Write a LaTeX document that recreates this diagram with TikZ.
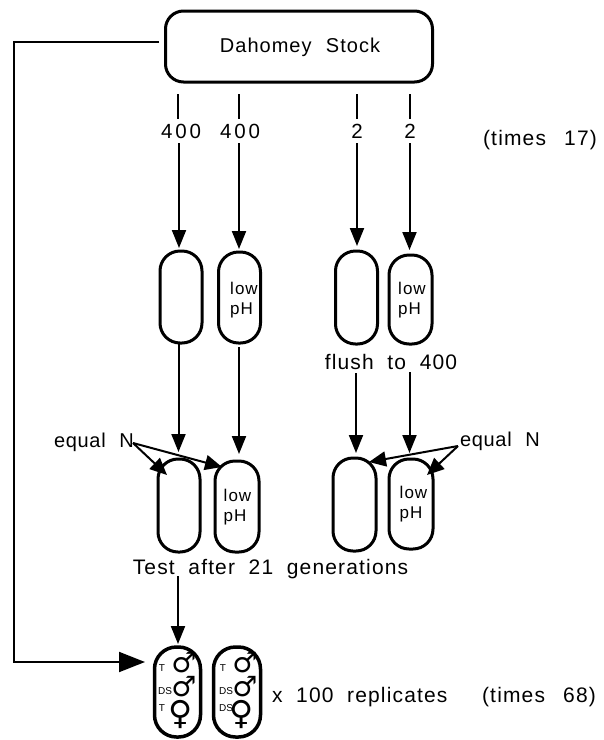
\documentclass[tikz,border=0pt]{standalone}
\usepackage{fontspec}
\setmainfont[LetterSpace=5,WordSpace=2.2]{Liberation Sans}
\newfontfamily\symfont{DejaVu Sans}
\newfontfamily\widefont[LetterSpace=5.5,WordSpace=2.6]{Liberation Sans}
\newcommand\tgt{\hspace{-4.5pt}}
\usetikzlibrary{arrows.meta}
\tikzset{
  x=1pt,y=-1pt,
  vial/.style={draw=black,line width=3pt,rounded corners=20pt,inner sep=0pt,outer sep=0pt,align=center},
  lab/.style={inner sep=0pt,outer sep=0pt,font=\fontsize{20}{22}\selectfont},
  eqt/.style={inner sep=0pt,outer sep=0pt,font=\fontsize{20}{22}\selectfont\addfontfeature{LetterSpace=3.5}},
  wide/.style={inner sep=0pt,outer sep=0pt,font=\widefont\fontsize{21}{22}\selectfont},
  num/.style={inner sep=0pt,outer sep=0pt,font=\fontsize{20.5}{22}\selectfont\addfontfeature{LetterSpace=14}},
  ph/.style={inner sep=0pt,outer sep=0pt,align=left,font=\fontsize{17}{20}\selectfont\addfontfeature{LetterSpace=6}},
  tiny/.style={inner sep=0pt,outer sep=0pt,font=\fontsize{10}{11}\selectfont\addfontfeature{LetterSpace=0}},
  male/.style={inner sep=0pt,outer sep=0pt,font=\symfont\bfseries\fontsize{28}{28}\selectfont},
  female/.style={inner sep=0pt,outer sep=0pt,font=\symfont\bfseries\fontsize{33}{33}\selectfont},
  line/.style={draw=black,line width=2pt},
  arr/.style={draw=black,line width=2pt,-{Triangle[length=18pt,width=14pt]}},
  big/.style={draw=black,line width=2pt,-{Triangle[length=26pt,width=20pt]}},
  eq/.style={draw=black,line width=2pt,-{Triangle[length=17pt,width=15pt]}},
}
\begin{document}
\begin{tikzpicture}
\useasboundingbox (0,0) rectangle (604,740);
% stock
\node[vial,rounded corners=18pt,minimum width=267pt,minimum height=71pt] (stock) at (299,46.5) {};
\node[lab] (stocklab) at (300,47) {Dahomey Stock};
% numbers
\node[num] (na) at (181,131) {400};
\node[num] (nb) at (240,131) {400};
\node[num] (nc) at (357,131) {2};
\node[num] (nd) at (410,131) {2};
\node[wide] (t17) at (540,140) {(times 17)};
% vials row 1
\node[vial,minimum width=42pt,minimum height=92pt] (a1) at (181,297) {};
\node[vial,minimum width=42pt,minimum height=91pt] (b1) at (239.5,297.5) {};
\node[ph] (bl) at (244,300) {low\\pH};
\node[vial,minimum width=42pt,minimum height=93pt] (c1) at (356.5,297.5) {};
\node[vial,minimum width=43pt,minimum height=89pt] (d1) at (410.5,299.5) {};
\node[ph] (dl) at (412,300) {low\\pH};
\node[wide] (flush) at (391,362) {flush\tgt{} to\tgt{} 400};
% vials row 2
\node[vial,minimum width=42pt,minimum height=93pt] (a2) at (179,505.5) {};
\node[vial,minimum width=44pt,minimum height=91pt] (b2) at (237,506.5) {};
\node[vial,minimum width=43pt,minimum height=93pt] (c2) at (354.5,504.5) {};
\node[vial,minimum width=44pt,minimum height=90pt] (d2) at (411,504) {};
\node[ph] (b2l) at (237.5,507) {low\\pH};
\node[ph] (d2l) at (413.5,504) {low\\pH};
\node[wide] (test) at (270.5,569) {Test\tgt{} after\tgt{} 21\tgt{} generations};
\node[eqt,anchor=west] (eql) at (54,442) {equal N};
\node[eqt,anchor=west] (eqr) at (460,441) {equal N};
% vials row 3
\node[vial,line width=3.5pt,minimum width=46pt,minimum height=90pt,rounded corners=22pt] (a3) at (177.5,692) {};
\node[vial,line width=3.5pt,minimum width=47pt,minimum height=90pt,rounded corners=22pt] (b3) at (237,692) {};
\node[wide,anchor=west] (rep) at (272,697) {x\tgt{} 100\tgt{} replicates};
\node[wide] (t68) at (539,697) {(times 68)};
% stubs
\coordinate (sa) at (178,94);  \coordinate (sae) at (178,119);
\coordinate (sb) at (238.5,94);\coordinate (sbe) at (238.5,119);
\coordinate (sc) at (357,94);  \coordinate (sce) at (357,119);
\coordinate (sd) at (410,94);  \coordinate (sde) at (410,119);
\draw[line] (sa)--(sae); \draw[line] (sb)--(sbe); \draw[line] (sc)--(sce); \draw[line] (sd)--(sde);
\coordinate (xa) at (179,143); \coordinate (xb) at (239,143); \coordinate (xc) at (357,143); \coordinate (xd) at (409.5,143);
\draw[arr,shorten >=3pt] (xa) -- (xa |- a1.north);
\draw[arr,shorten >=3pt] (xb) -- (xb |- b1.north);
\draw[arr,shorten >=5pt] (xc) -- (xc |- c1.north);
\draw[arr,shorten >=5pt] (xd) -- (xd |- d1.north);
% row 1 to row 2
\coordinate (ya) at (178.5,344); \coordinate (yb) at (239,347); \coordinate (yc) at (356,373); \coordinate (yd) at (409.5,372);
\draw[arr,shorten >=7pt] (ya) -- (ya |- a2.north);
\draw[arr,shorten >=7pt] (yb) -- (yb |- b2.north);
\draw[arr,shorten >=5pt] (yc) -- (yc |- c2.north);
\draw[arr,shorten >=6pt] (yd) -- (yd |- d2.north);
% equal N
\coordinate (el) at (133,443); \coordinate (er) at (458,446);
\coordinate (t1) at (167,475); \coordinate (t2) at (222,467);
\coordinate (t3) at (369,462); \coordinate (t4) at (427,475);
\draw[eq] (el) -- (t1); \draw[eq] (el) -- (t2);
\draw[eq] (er) -- (t3); \draw[eq] (er) -- (t4);
% row 2 to row 3
\coordinate (za) at (178,576);
\draw[arr,shorten >=3pt] (za) -- (za |- a3.north);
% loop
\coordinate (l0) at (159,42); \coordinate (l1) at (14,42); \coordinate (l2) at (14,662); \coordinate (l3) at (145,662);
\draw[big] (l0) -- (l1) -- (l2) -- (l3);
% symbols
\node[male] (m1) at (184,663) {♂};
\node[male] (m2) at (184,687) {♂};
\node[female] (f1) at (181,714) {♀};
\node[male] (m3) at (245,663) {♂};
\node[male] (m4) at (245,687) {♂};
\node[female] (f2) at (242,714) {♀};
\node[tiny] (la) at (162,668) {T};
\node[tiny] (lb) at (165,691) {DS};
\node[tiny] (lc) at (162,708) {T};
\node[tiny] (ld) at (223,668) {T};
\node[tiny] (le) at (226,691) {DS};
\node[tiny] (lf) at (226,708) {DS};
\end{tikzpicture}
\end{document}
